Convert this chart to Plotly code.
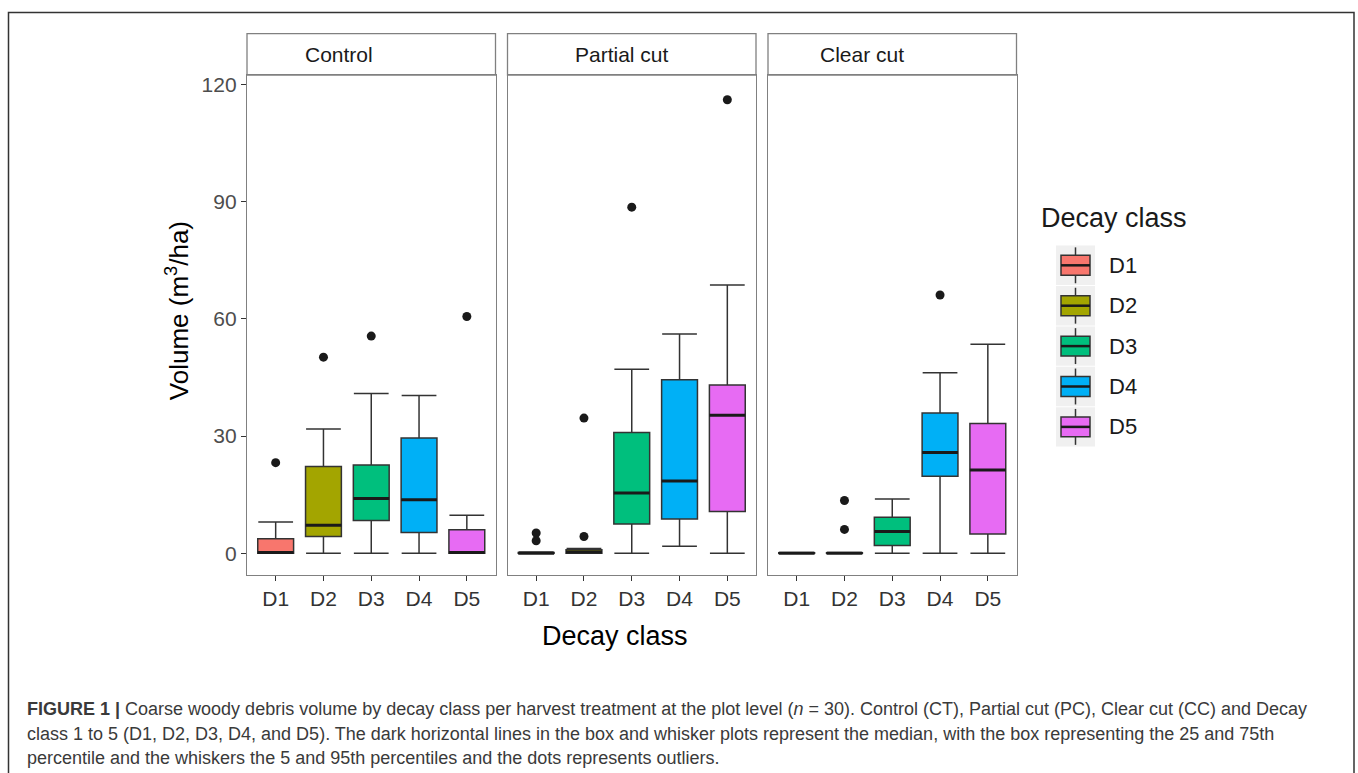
import plotly.graph_objects as go

W, H = 1358, 773


def px(x):
    return x / W


def py(y):
    return 1 - y / H


# ---------------- data ----------------
treatments = ["Control", "Partial cut", "Clear cut"]
classes = ["D1", "D2", "D3", "D4", "D5"]
colors = ["#F8766D", "#A3A500", "#00BF7D", "#00B0F6", "#E76BF3"]
y_ticks = [0, 30, 60, 90, 120]

ctrl_q1 = [0.0, 4.3, 8.4, 5.3, 0.0]
ctrl_med = [0.2, 7.2, 14.0, 13.7, 0.2]
ctrl_q3 = [3.7, 22.2, 22.6, 29.5, 6.0]
ctrl_low = [0.0, 0.0, 0.0, 0.0, 0.0]
ctrl_high = [8.0, 31.8, 40.9, 40.4, 9.7]
ctrl_out = [[23.2], [50.2], [55.6], [], [60.6]]

pc_q1 = [0.0, 0.0, 7.5, 8.8, 10.7]
pc_med = [0.0, 0.3, 15.4, 18.5, 35.3]
pc_q3 = [0.2, 0.9, 30.9, 44.4, 43.1]
pc_low = [0.0, 0.0, 0.0, 1.8, 0.0]
pc_high = [0.3, 1.2, 47.1, 56.1, 68.7]
pc_out = [[3.2, 5.2], [4.3, 34.6], [88.6], [], [116.1]]

cc_q1 = [0.0, 0.0, 2.0, 19.7, 4.9]
cc_med = [0.0, 0.0, 5.6, 25.8, 21.3]
cc_q3 = [0.1, 0.1, 9.2, 35.9, 33.2]
cc_low = [0.0, 0.0, 0.0, 0.0, 0.0]
cc_high = [0.2, 0.2, 13.9, 46.2, 53.5]
cc_out = [[], [6.1, 13.5], [], [66.1], []]

stats = {
    "Control": (ctrl_q1, ctrl_med, ctrl_q3, ctrl_low, ctrl_high, ctrl_out),
    "Partial cut": (pc_q1, pc_med, pc_q3, pc_low, pc_high, pc_out),
    "Clear cut": (cc_q1, cc_med, cc_q3, cc_low, cc_high, cc_out),
}

caption_lines = [
    "<b>FIGURE 1 |</b> Coarse woody debris volume by decay class per harvest treatment at the plot level (<i>n</i> = 30). "
    "Control (CT), Partial cut (PC), Clear cut (CC) and Decay",
    "class 1 to 5 (D1, D2, D3, D4, and D5). The dark horizontal lines in the box and whisker plots represent the median, "
    "with the box representing the 25 and 75th",
    "percentile and the whiskers the 5 and 95th percentiles and the dots represents outliers.",
]

# ---------------- layout geometry (pixels) ----------------
panel_x = [(247, 495.5), (507.5, 756), (768, 1016.5)]
panel_top, panel_bot, strip_top = 73.3, 574, 31.7
strip_text_x = [339, 622, 862]
BOX_W = 0.75
FONT = "Liberation Sans, Arial, sans-serif"
LINE = "#333333"
BORDER = "#808080"

fig = go.Figure()

for t_idx, t in enumerate(treatments):
    q1, med, q3, low, high, outs = stats[t]
    xa = "x" if t_idx == 0 else f"x{t_idx + 1}"
    ya = "y" if t_idx == 0 else f"y{t_idx + 1}"
    for i, c in enumerate(classes):
        fig.add_trace(go.Box(
            x=[i], q1=[q1[i]], median=[med[i]], q3=[q3[i]],
            lowerfence=[low[i]], upperfence=[high[i]],
            width=BOX_W, whiskerwidth=0.97,
            fillcolor=colors[i], line=dict(color=LINE, width=1.5),
            boxpoints=False, xaxis=xa, yaxis=ya, showlegend=False,
            hoverinfo="skip", name=c,
        ))
    # thicker median lines
    mx, my = [], []
    for i in range(len(classes)):
        mx += [i - BOX_W / 2, i + BOX_W / 2, None]
        my += [med[i], med[i], None]
    fig.add_trace(go.Scatter(x=mx, y=my, mode="lines", line=dict(color="#1a1a1a", width=3),
                             xaxis=xa, yaxis=ya, showlegend=False, hoverinfo="skip"))
    # outliers
    ox, oy = [], []
    for i, vals in enumerate(outs):
        for v in vals:
            ox.append(i)
            oy.append(v)
    fig.add_trace(go.Scatter(x=ox, y=oy, mode="markers",
                             marker=dict(color="#1a1a1a", size=9),
                             xaxis=xa, yaxis=ya, showlegend=False, hoverinfo="skip"))

layout = dict(
    width=W, height=H, autosize=False,
    margin=dict(l=0, r=0, t=0, b=0),
    paper_bgcolor="white", plot_bgcolor="white",
    boxmode="overlay", showlegend=False,
    font=dict(family=FONT, color="#000000"),
)

shapes = []
annotations = []
for k, (x0, x1) in enumerate(panel_x):
    sfx = "" if k == 0 else str(k + 1)
    layout["xaxis" + sfx] = dict(
        domain=[px(x0), px(x1)], range=[-0.6, 4.6],
        tickvals=list(range(len(classes))), ticktext=classes,
        ticks="outside", ticklen=5, tickwidth=1.3, tickcolor=LINE,
        tickfont=dict(size=21, color="#333333", family=FONT),
        showline=True, mirror=True, linecolor=BORDER, linewidth=1.3,
        showgrid=False, zeroline=False, anchor="y" + sfx, fixedrange=True,
    )
    layout["yaxis" + sfx] = dict(
        domain=[py(panel_bot), py(panel_top)], range=[-5.44, 122.4],
        tickvals=y_ticks, showticklabels=(k == 0),
        ticks="outside" if k == 0 else "", ticklen=5, tickwidth=1.3, tickcolor=LINE,
        tickfont=dict(size=21, color="#4d4d4d", family=FONT),
        showline=True, mirror=True, linecolor=BORDER, linewidth=1.3,
        showgrid=False, zeroline=False, anchor="x" + sfx, fixedrange=True,
    )
    # strip
    shapes.append(dict(type="rect", xref="paper", yref="paper",
                       x0=px(x0), x1=px(x1), y0=py(panel_top), y1=py(strip_top),
                       line=dict(color=BORDER, width=1.3), fillcolor="white", layer="below"))
    annotations.append(dict(text=treatments[k], xref="paper", yref="paper",
                            x=px(strip_text_x[k]), y=py((panel_top + strip_top) / 2),
                            xanchor="center", yanchor="middle", showarrow=False,
                            font=dict(size=21, color="#1a1a1a", family=FONT)))

# axis titles
annotations.append(dict(text="Volume (m<sup>3</sup>/ha)", xref="paper", yref="paper",
                        x=px(177), y=py(310), textangle=-90, xanchor="center", yanchor="middle",
                        showarrow=False, font=dict(size=26, color="#000000", family=FONT)))
annotations.append(dict(text="Decay class", xref="paper", yref="paper",
                        x=px(615), y=py(636), xanchor="center", yanchor="middle",
                        showarrow=False, font=dict(size=27, color="#000000", family=FONT)))

# legend (custom, ggplot style)
annotations.append(dict(text="Decay class", xref="paper", yref="paper",
                        x=px(1039), y=py(217), xanchor="left", yanchor="middle",
                        showarrow=False, font=dict(size=27, color="#1a1a1a", family=FONT)))
leg_x0, leg_x1 = 1056, 1095
leg_c0, leg_step = 264, 40.5
for i, c in enumerate(classes):
    cy = leg_c0 + i * leg_step
    cx = (leg_x0 + leg_x1) / 2
    shapes.append(dict(type="rect", xref="paper", yref="paper",
                       x0=px(leg_x0), x1=px(leg_x1), y0=py(cy + leg_step / 2 - 0.5), y1=py(cy - leg_step / 2 + 0.5),
                       line=dict(width=0), fillcolor="#f0f0f0"))
    for (ya0, ya1) in [(cy - 18, cy - 10), (cy + 10, cy + 18)]:
        shapes.append(dict(type="line", xref="paper", yref="paper",
                           x0=px(cx), x1=px(cx), y0=py(ya0), y1=py(ya1),
                           line=dict(color=LINE, width=1.5)))
    shapes.append(dict(type="rect", xref="paper", yref="paper",
                       x0=px(leg_x0 + 5), x1=px(leg_x1 - 5), y0=py(cy + 10), y1=py(cy - 10),
                       line=dict(color=LINE, width=1.5), fillcolor=colors[i]))
    shapes.append(dict(type="line", xref="paper", yref="paper",
                       x0=px(leg_x0 + 5), x1=px(leg_x1 - 5), y0=py(cy), y1=py(cy),
                       line=dict(color="#1a1a1a", width=2.5)))
    annotations.append(dict(text=c, xref="paper", yref="paper",
                            x=px(1107), y=py(cy), xanchor="left", yanchor="middle",
                            showarrow=False, font=dict(size=22, color="#1a1a1a", family=FONT)))

# outer frame (open at bottom)
shapes.append(dict(type="rect", xref="paper", yref="paper",
                   x0=px(8.5), x1=px(1354), y0=-0.05, y1=py(10.5),
                   line=dict(color="#333333", width=1.5), fillcolor="rgba(0,0,0,0)"))

# caption
cap_y = [709, 734, 758]
for line, yy in zip(caption_lines, cap_y):
    annotations.append(dict(text=line, xref="paper", yref="paper",
                            x=px(25), y=py(yy), xanchor="left", yanchor="middle",
                            showarrow=False, font=dict(size=18, color="#3a3a3a", family=FONT)))

layout["shapes"] = shapes
layout["annotations"] = annotations
fig.update_layout(**layout)

fig.write_html("out.html")
